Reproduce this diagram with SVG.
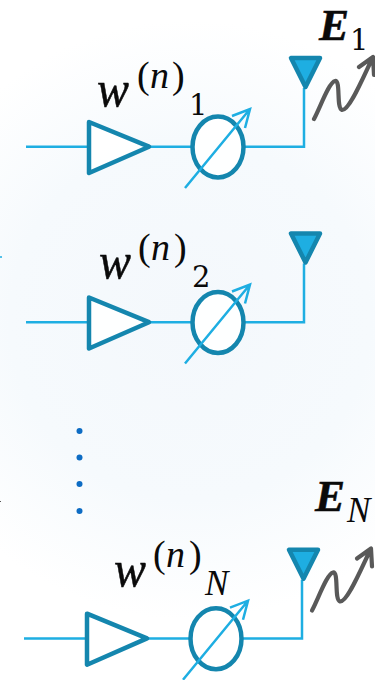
<svg xmlns="http://www.w3.org/2000/svg" width="375" height="680" viewBox="0 0 375 680">
<style>
.wire{fill:none;stroke:#1eaee2;stroke-width:2.5}
.amp{fill:#fff;fill-opacity:.9;stroke:#1486ae;stroke-width:4.5;stroke-linejoin:round}
.ps{fill:#fff;fill-opacity:.9;stroke:#1486ae;stroke-width:4.5}
.ant{fill:#1eaee2;stroke:#1486ae;stroke-width:4.5;stroke-linejoin:round}
.wave{fill:none;stroke:#595959;stroke-width:4.2;stroke-linecap:round;stroke-linejoin:round}
.t{font-family:"Liberation Serif","DejaVu Serif",serif;fill:#0a0a0a}
.w{font-style:italic;font-size:50px;stroke:#0a0a0a;stroke-width:.5}
.p{font-size:38px}
.n{font-style:italic;font-size:38px}
.b{font-weight:bold;font-style:italic;font-size:45px;stroke:#0a0a0a;stroke-width:.5}
.d{font-family:"DejaVu Serif",serif;font-size:29px}
.s{font-style:italic;font-size:35px}
.dot{fill:#0d6cc4}
</style>
<defs>
<radialGradient id="bg" gradientUnits="userSpaceOnUse" cx="190" cy="320" r="300">
<stop offset="0" stop-color="#f4f8fc"/><stop offset=".6" stop-color="#f6fafd"/><stop offset="1" stop-color="#ffffff"/>
</radialGradient>
<g id="chain">
<path class="wire" d="M26 146.700H89M149 146.700H192M244 146.700H304V88"/>
<path class="amp" d="M89 122L149 146.700L89 173Z"/>
<ellipse class="ps" cx="218" cy="147" rx="25.500" ry="30.500"/>
<path class="wire" d="M185 188L250 109M232 116L250 109L245 128"/>
<path class="ant" d="M291 58H320L305.500 87Z"/>
</g>
<path id="wv" class="wave" d="M314 119C320 108 329 82 335 81C341 80 336 108 342 110C349 111 362 80 372 59M359 67L373 57L374 75"/>
</defs>
<rect width="375" height="680" fill="url(#bg)"/>
<g id="connectors">
<path d="M0 257h2" stroke="#1eaee2" stroke-width="1.500" fill="none"/>
<path d="M0 501l1 1" stroke="#555" stroke-width="1" fill="none"/>
</g>
<g id="row1"><use href="#chain"/><use href="#wv"/>
<text class="t w" x="97" y="106" textLength="32" lengthAdjust="spacingAndGlyphs">w</text>
<text class="t p" x="137" y="88">(</text><text class="t n" x="150" y="88">n</text><text class="t p" x="172" y="88">)</text>
<text class="t d" x="189" y="115">1</text>
<text class="t b" x="319" y="40" textLength="30" lengthAdjust="spacingAndGlyphs">E</text>
<text class="t d" x="350" y="50">1</text>
</g>
<g id="row2"><use href="#chain" y="175.500"/>
<text class="t w" x="99" y="278" textLength="32" lengthAdjust="spacingAndGlyphs">w</text>
<text class="t p" x="138" y="260">(</text><text class="t n" x="151" y="260">n</text><text class="t p" x="174" y="260">)</text>
<text class="t d" x="192" y="287">2</text>
</g>
<g id="dots">
<circle class="dot" cx="79.500" cy="431" r="3"/><circle class="dot" cx="79.500" cy="457.500" r="3"/><circle class="dot" cx="79.500" cy="484" r="3"/><circle class="dot" cx="79.500" cy="511" r="3"/>
</g>
<g id="rowN"><use href="#chain" x="-2" y="491.700"/><use href="#wv" x="-2" y="491.500"/>
<text class="t w" x="114" y="586" textLength="32" lengthAdjust="spacingAndGlyphs">w</text>
<text class="t p" x="153" y="567">(</text><text class="t n" x="166" y="567">n</text><text class="t p" x="189" y="567">)</text>
<text class="t s" x="205" y="595">N</text>
<text class="t b" x="315" y="511" textLength="30" lengthAdjust="spacingAndGlyphs">E</text>
<text class="t s" x="347" y="522">N</text>
</g>
</svg>
